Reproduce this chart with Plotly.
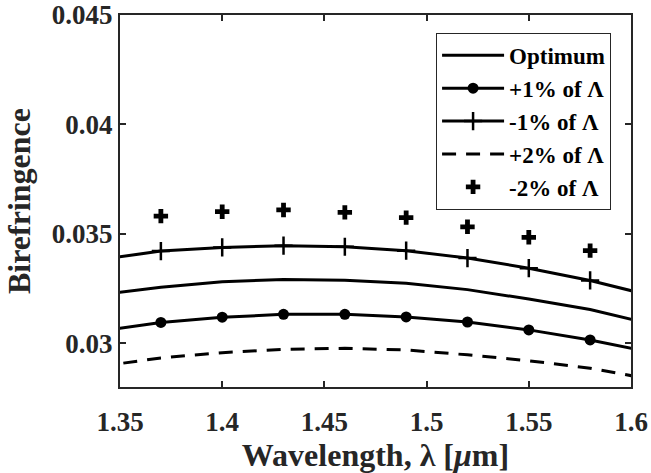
import plotly.graph_objects as go

# Wavelength samples (um); first/last lie just outside the axis range
wl = [1.34, 1.37, 1.40, 1.43, 1.46, 1.49, 1.52, 1.55, 1.58, 1.61]
optimum = [0.03221, 0.03256, 0.03281, 0.03291, 0.03288, 0.03274, 0.03245, 0.03202, 0.03154, 0.03088]
plus1 = [0.03055, 0.03095, 0.03119, 0.03132, 0.03132, 0.03120, 0.03097, 0.03061, 0.03015, 0.02958]
minus1 = [0.03382, 0.03421, 0.03438, 0.03446, 0.03441, 0.03423, 0.03389, 0.03343, 0.03287, 0.03217]
plus2 = [0.02894, 0.02933, 0.02957, 0.02972, 0.02977, 0.02969, 0.02947, 0.02920, 0.02886, 0.02835]
wl_m2 = [1.37, 1.40, 1.43, 1.46, 1.49, 1.52, 1.55, 1.58]
minus2 = [0.03581, 0.03601, 0.03609, 0.03598, 0.03574, 0.03532, 0.03484, 0.03423]

names = ["Optimum", "+1% of Λ", "-1% of Λ", "+2% of Λ", "-2% of Λ"]
xticks = [1.35, 1.40, 1.45, 1.50, 1.55, 1.60]
xticktext = ["1.35", "1.4", "1.45", "1.5", "1.55", "1.6"]
yticks = [0.030, 0.035, 0.040, 0.045]
yticktext = ["0.03", "0.035", "0.04", "0.045"]

FONT = "Liberation Serif"
INK = "#262626"
LW = 3

fig = go.Figure()
fig.add_trace(go.Scatter(x=wl, y=optimum, name=names[0], mode="lines",
                         line=dict(color="black", width=LW)))
fig.add_trace(go.Scatter(x=wl, y=plus1, name=names[1], mode="lines+markers",
                         line=dict(color="black", width=LW),
                         marker=dict(symbol="circle", size=11, color="black")))
fig.add_trace(go.Scatter(x=wl, y=minus1, name=names[2], mode="lines+markers",
                         line=dict(color="black", width=LW),
                         marker=dict(symbol="cross-thin", size=13, color="black",
                                     line=dict(color="black", width=2.5))))
fig.add_trace(go.Scatter(x=wl, y=plus2, name=names[3], mode="lines",
                         line=dict(color="black", width=LW, dash="14px,10px")))
fig.add_trace(go.Scatter(x=wl_m2, y=minus2, name=names[4], mode="markers",
                         marker=dict(symbol="cross", size=12, color="black")))

tickfont = dict(family=FONT, size=27, color=INK, weight="bold")
titlefont = dict(family=FONT, size=32, color=INK, weight="bold")
axis_common = dict(showline=True, linecolor=INK, linewidth=2, mirror="ticks",
                   ticks="inside", ticklen=6, tickwidth=1.5, tickcolor=INK,
                   showgrid=False, zeroline=False, tickfont=tickfont,
                   automargin=False)

fig.update_layout(
    width=651, height=473,
    margin=dict(l=120, r=20, t=15, b=86),
    paper_bgcolor="white", plot_bgcolor="white",
    font=dict(family=FONT, color=INK),
    showlegend=True,
    legend=dict(x=0.961, y=0.952, xanchor="right", yanchor="top",
                bgcolor="white", bordercolor=INK, borderwidth=1,
                font=dict(family=FONT, size=23, color="black", weight="bold"),
                itemwidth=62, tracegroupgap=0),
    xaxis=dict(range=[1.35, 1.6], tickvals=xticks, ticktext=xticktext,
               ticklabelstandoff=10,
               title=dict(text="Wavelength, λ [<i>μ</i>m]", standoff=0, font=titlefont),
               **axis_common),
    yaxis=dict(range=[0.028, 0.045], tickvals=yticks, ticktext=yticktext,
               title=dict(text="Birefringence", standoff=12, font=titlefont),
               **axis_common),
)

fig.write_html("out.html")
